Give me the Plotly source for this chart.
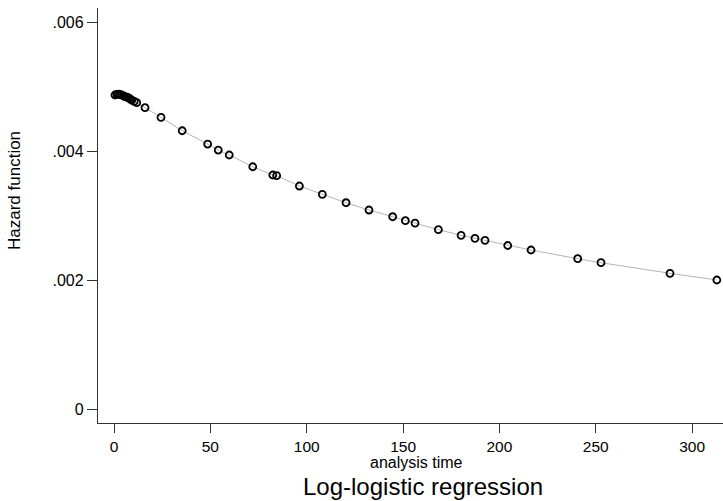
import plotly.graph_objects as go

# analysis time (x) and hazard function (y)
analysis_time = [0.5, 1.5, 2.2, 3.0, 4.0, 5.0, 5.7, 6.5, 7.4, 8.3, 9.2, 10.5, 11.8,
                 16.1, 24.4, 35.4, 48.6, 54.1, 59.8, 72.0, 82.4, 84.4, 96.2, 108.1,
                 120.4, 132.3, 144.6, 151.2, 156.2, 168.3, 180.1, 187.3, 192.5,
                 204.3, 216.4, 240.6, 252.7, 288.5, 312.8]
hazard = [0.004876, 0.004885, 0.004891, 0.004884, 0.004876, 0.004862, 0.004850,
          0.004843, 0.004834, 0.004815, 0.004798, 0.004778, 0.004757,
          0.004679, 0.004530, 0.004322, 0.004116, 0.004023, 0.003946, 0.003764,
          0.003636, 0.003625, 0.003465, 0.003336, 0.003206, 0.003093, 0.002989,
          0.002927, 0.002891, 0.002788, 0.002701, 0.002654, 0.002623, 0.002543,
          0.002473, 0.002338, 0.002276, 0.002112, 0.002008]

x_ticks = [0, 50, 100, 150, 200, 250, 300]
y_ticks = [0, 0.002, 0.004, 0.006]
y_tick_labels = ["0", ".002", ".004", ".006"]

FONT = "Liberation Sans, Arial, Helvetica, sans-serif"

W, H = 723, 501
ML, MR, MT, MB = 98, 0, 8, 78
plot_w = W - ML - MR
plot_h = H - MT - MB


def px_x(px):
    return (px - ML) / plot_w


def px_y(py):
    return (H - MB - py) / plot_h


fig = go.Figure()
fig.add_trace(go.Scatter(
    x=analysis_time, y=hazard, mode="lines",
    line=dict(color="#b4b4b4", width=1), showlegend=False, hoverinfo="skip"))
fig.add_trace(go.Scatter(
    x=analysis_time, y=hazard, mode="markers",
    marker=dict(symbol="circle-open", size=7, color="black",
                line=dict(color="black", width=1.8)),
    showlegend=False))

fig.update_layout(
    width=W, height=H,
    margin=dict(l=ML, r=MR, t=MT, b=MB),
    paper_bgcolor="white", plot_bgcolor="white",
    font=dict(family=FONT, color="black", size=15),
    xaxis=dict(
        range=[-8.3, 316], tickvals=x_ticks, ticks="outside", ticklen=9,
        tickwidth=1.2, tickcolor="#333", showline=True, linecolor="#333", linewidth=1.4,
        showgrid=False, zeroline=False, tickfont=dict(size=15.5, family=FONT),
    ),
    yaxis=dict(
        range=[-0.000209, 0.006225], tickvals=y_ticks, ticktext=y_tick_labels,
        ticks="outside", ticklen=10, tickwidth=1.2, tickcolor="#333",
        showline=True, linecolor="#333", linewidth=1.4,
        showgrid=False, zeroline=False, tickfont=dict(size=16, family=FONT),
    ),
    annotations=[
        dict(text="analysis time", x=px_x(416), xref="paper", y=px_y(462.5), yref="paper",
             xanchor="center", yanchor="middle", showarrow=False,
             font=dict(size=16, family=FONT)),
        dict(text="Hazard function", x=px_x(15), xref="paper", y=px_y(191), yref="paper",
             xanchor="center", yanchor="middle", textangle=-90, showarrow=False,
             font=dict(size=17, family=FONT)),
        dict(text="Log-logistic regression", x=px_x(423), xref="paper",
             y=px_y(486.5), yref="paper", xanchor="center", yanchor="middle",
             showarrow=False, font=dict(size=24, family=FONT)),
    ],
)

fig.write_html("out.html", config={"displayModeBar": False},
               post_script="document.body.style.margin='0';document.body.style.overflow='hidden';")
